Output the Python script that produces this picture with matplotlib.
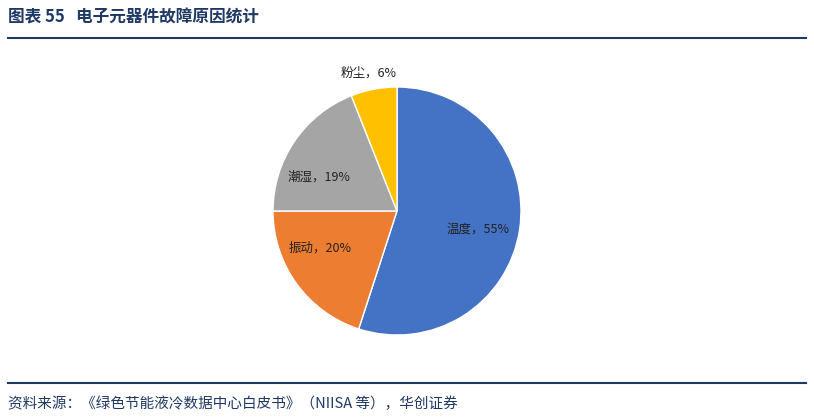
import matplotlib
matplotlib.use('Agg')
import matplotlib.pyplot as plt

plt.rcParams['font.family'] = ['Noto Sans CJK SC', 'DejaVu Sans']

labels = ['温度', '振动', '潮湿', '粉尘']
values = [55, 20, 19, 6]
colors = ['#4472C4', '#ED7D31', '#A5A5A5', '#FFC000']
# label positions in pie units (radius 1)
label_pos = [(0.65, -0.15), (-0.62, -0.30), (-0.63, 0.27), (-0.23, 1.11)]

fig = plt.figure(figsize=(8.14, 4.19), dpi=100)

# title and rules
fig.text(8/814, 1-17/419, '图表 55   电子元器件故障原因统计', fontsize=12, fontweight='bold',
         color='#1F3864', va='center', ha='left')
fig.add_artist(plt.Line2D([8/814, 806/814], [1-38/419]*2, color='#1F3864', lw=1.5))
fig.add_artist(plt.Line2D([8/814, 806/814], [1-383/419]*2, color='#1F3864', lw=1.5))
fig.text(8/814, 1-404/419, '资料来源：《绿色节能液冷数据中心白皮书》（NIISA 等），华创证券', fontsize=10.5,
         style='italic', color='#1F3864', va='center', ha='left')

ax = fig.add_axes([273/814, 84/419, 248/814, 248/419])
ax.pie(values, colors=colors, startangle=90, counterclock=False,
       wedgeprops=dict(edgecolor='white', linewidth=1))
for lab, v, (x, y) in zip(labels, values, label_pos):
    ax.text(x, y, f'{lab}，{v}%', ha='center', va='center', fontsize=9, color='#222222')
ax.set_xlim(-1, 1)
ax.set_ylim(-1, 1)
ax.set_aspect('equal')
ax.axis('off')

fig.savefig('out.png', dpi=100)
